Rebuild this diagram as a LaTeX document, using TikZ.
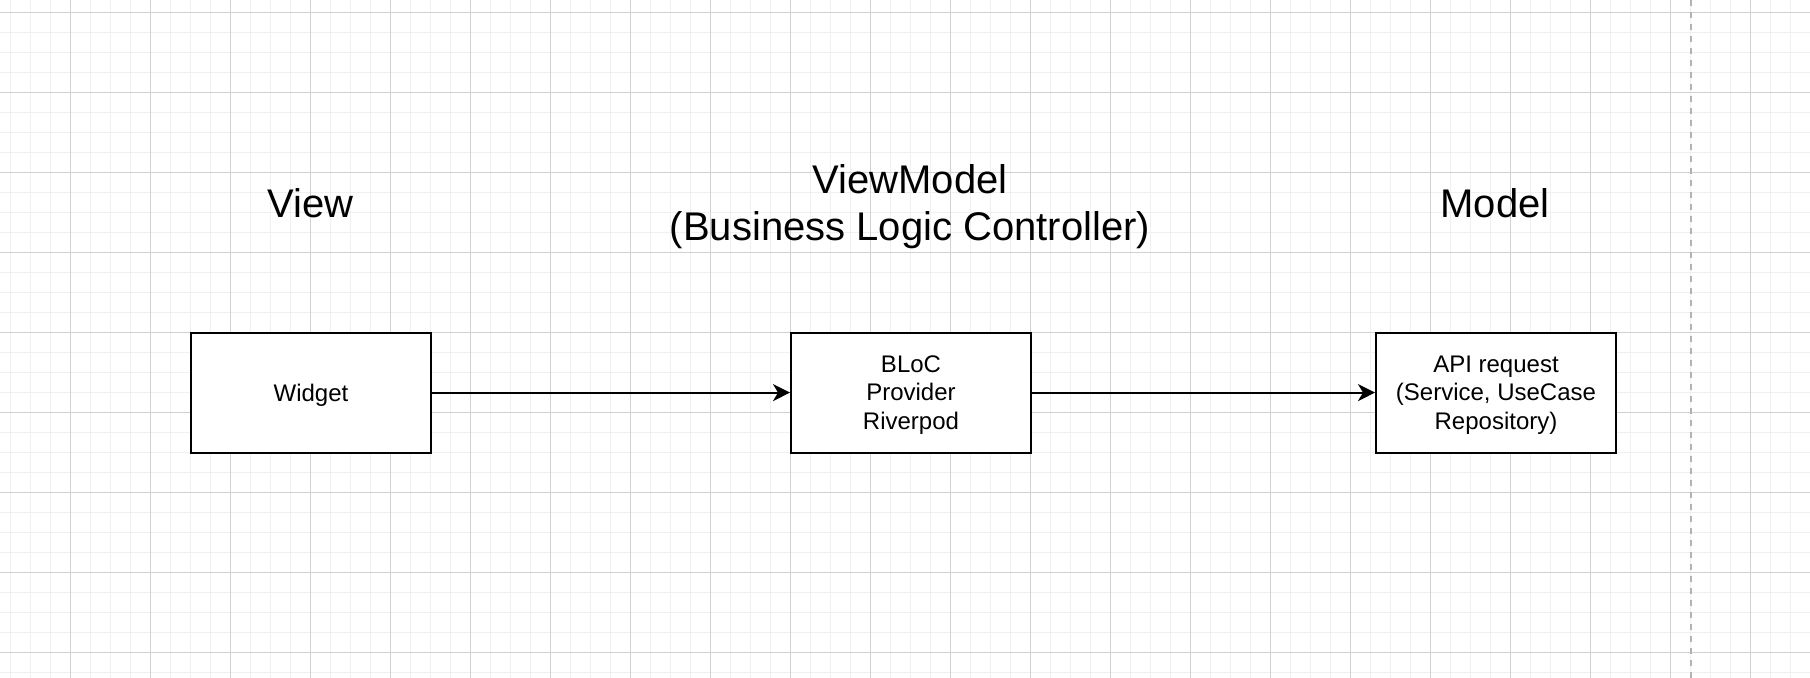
\documentclass[tikz,border=0pt]{standalone}
\usepackage{fontspec}
\setmainfont{Liberation Sans}
\usetikzlibrary{arrows.meta}
\tikzset{
	layerbox/.style={draw, line width=1pt, fill=white, minimum width=120pt, minimum height=60pt, inner sep=0pt, text depth=-0.4pt, align=center, font=\fontsize{12pt}{14.4pt}\selectfont},
	layertitle/.style={anchor=base, align=center, font=\fontsize{20pt}{23.5pt}\selectfont},
	flow/.style={line width=1pt, -{Stealth[length=8.5pt, width=8.5pt, inset=2.5pt]}}
}
\begin{document}
\begin{tikzpicture}[x=0.5pt, y=-0.5pt]
		\useasboundingbox (0,0) rectangle (1810,678);
		\fill[white] (0,0) rectangle (1810,678);
		\foreach \i in {0,...,89} \draw[black!6, line width=0.5pt] (10.4+20*\i, 0)--(10.4+20*\i, 678);
		\foreach \i in {0,...,33} \draw[black!6, line width=0.5pt] (0, 12.1+20*\i)--(1810, 12.1+20*\i);
		\foreach \i in {0,...,21} \draw[black!18, line width=0.5pt] (70.4+80*\i, 0)--(70.4+80*\i, 678);
		\foreach \i in {0,...,8} \draw[black!18, line width=0.5pt] (0, 12.1+80*\i)--(1810, 12.1+80*\i);
		\draw[black!30, line width=1pt, dash pattern=on 3pt off 3pt] (1690.5,0)--(1690.5,678);
		\node[layertitle] at (310.5, 217.5) (view) {View};
		\node[layertitle] at (910, 240.3) (viewmodel) {ViewModel\\(Business Logic Controller)};
		\node[layertitle] at (1495, 217.5) (model) {Model};
		\node[layerbox] at (311, 392.6) (widget) {Widget};
		\node[layerbox] at (911, 392.6) (bloc) {BLoC\\Provider\\Riverpod};
		\node[layerbox] at (1496, 392.6) (api) {API request\\(Service, UseCase\\Repository)};
		\draw[flow] (widget) -- (bloc);
		\draw[flow] (bloc) -- (api);
	\end{tikzpicture}
\end{document}
